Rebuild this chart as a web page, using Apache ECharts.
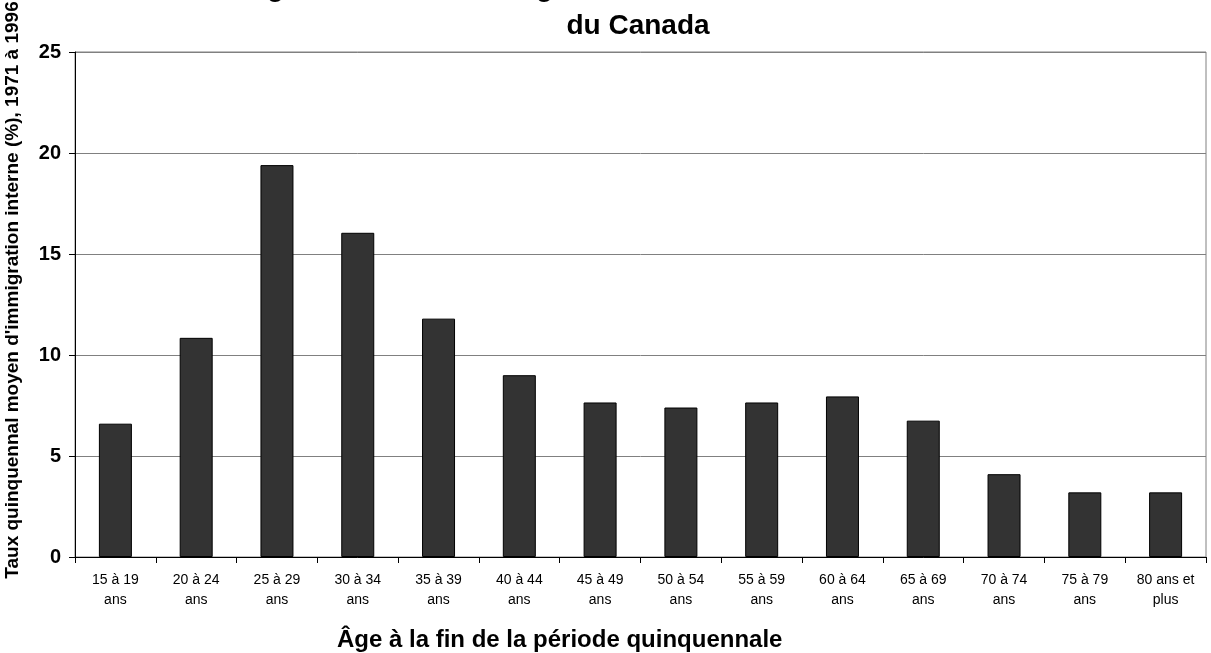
<!DOCTYPE html>
<html>
<head>
<meta charset="utf-8">
<script src="https://cdn.jsdelivr.net/npm/echarts@6/dist/echarts.min.js"></script>
<style>
html,body{margin:0;padding:0;background:#fff;}
#chart{width:1211px;height:653px;}
</style>
</head>
<body>
<div id="chart"></div>
<script>
var categories = ["15 à 19\nans","20 à 24\nans","25 à 29\nans","30 à 34\nans","35 à 39\nans","40 à 44\nans","45 à 49\nans","50 à 54\nans","55 à 59\nans","60 à 64\nans","65 à 69\nans","70 à 74\nans","75 à 79\nans","80 ans et\nplus"];
var values = [6.6, 10.85, 19.4, 16.05, 11.8, 9.0, 7.65, 7.4, 7.65, 7.95, 6.75, 4.1, 3.2, 3.2];
var yTicks = [0, 5, 10, 15, 20, 25];
var titleLine1 = "Figure 3 : Taux d'immigration interne à l'intérieur";
var titleLine2 = "du Canada";
var xTitle = "Âge à la fin de la période quinquennale";
var yTitle = "Taux quinquennal moyen d'immigration interne (%), 1971 à 1996";

var FONT = "'Liberation Sans', Arial, sans-serif";
var chart = echarts.init(document.getElementById('chart'), null, {renderer:'canvas'});
chart.setOption({
  backgroundColor:'#ffffff',
  animation:false,
  graphic:[
    {type:'text', left:242, top:-26, style:{text:titleLine1, font:"bold 28px "+FONT, fill:'#000'}},
    {type:'text', x:638, y:12, style:{text:titleLine2, font:"bold 28px "+FONT, fill:'#000', textAlign:'center'}},
    {type:'text', left:337, top:628, style:{text:xTitle, font:"bold 24px "+FONT, fill:'#000'}},
    {type:'text', x:13, y:290, rotation:Math.PI/2, style:{text:yTitle, font:"bold 19px "+FONT, fill:'#000', textAlign:'center', textVerticalAlign:'middle'}}
  ],
  grid:{left:75, right:5, top:52, bottom:96, show:true, borderColor:'#808080', borderWidth:1, backgroundColor:'transparent'},
  xAxis:{
    type:'category', data:categories,
    axisLine:{lineStyle:{color:'#000', width:1}},
    axisTick:{show:true, alignWithLabel:false, length:6, lineStyle:{color:'#000'}},
    axisLabel:{interval:0, color:'#000', fontFamily:FONT, fontSize:14, lineHeight:20, margin:13},
    splitLine:{show:false}
  },
  yAxis:{
    type:'value', min:yTicks[0], max:yTicks[yTicks.length-1], interval:5,
    axisLine:{show:true, lineStyle:{color:'#000', width:1}},
    axisTick:{show:true, length:6, lineStyle:{color:'#000'}},
    axisLabel:{color:'#000', fontFamily:FONT, fontSize:20, fontWeight:'bold', margin:14},
    splitLine:{show:true, lineStyle:{color:'#808080', width:1}}
  },
  series:[{
    type:'bar', data:values, barWidth:33,
    itemStyle:{color:'#333333', borderColor:'#000', borderWidth:1}
  }]
});
</script>
</body>
</html>
